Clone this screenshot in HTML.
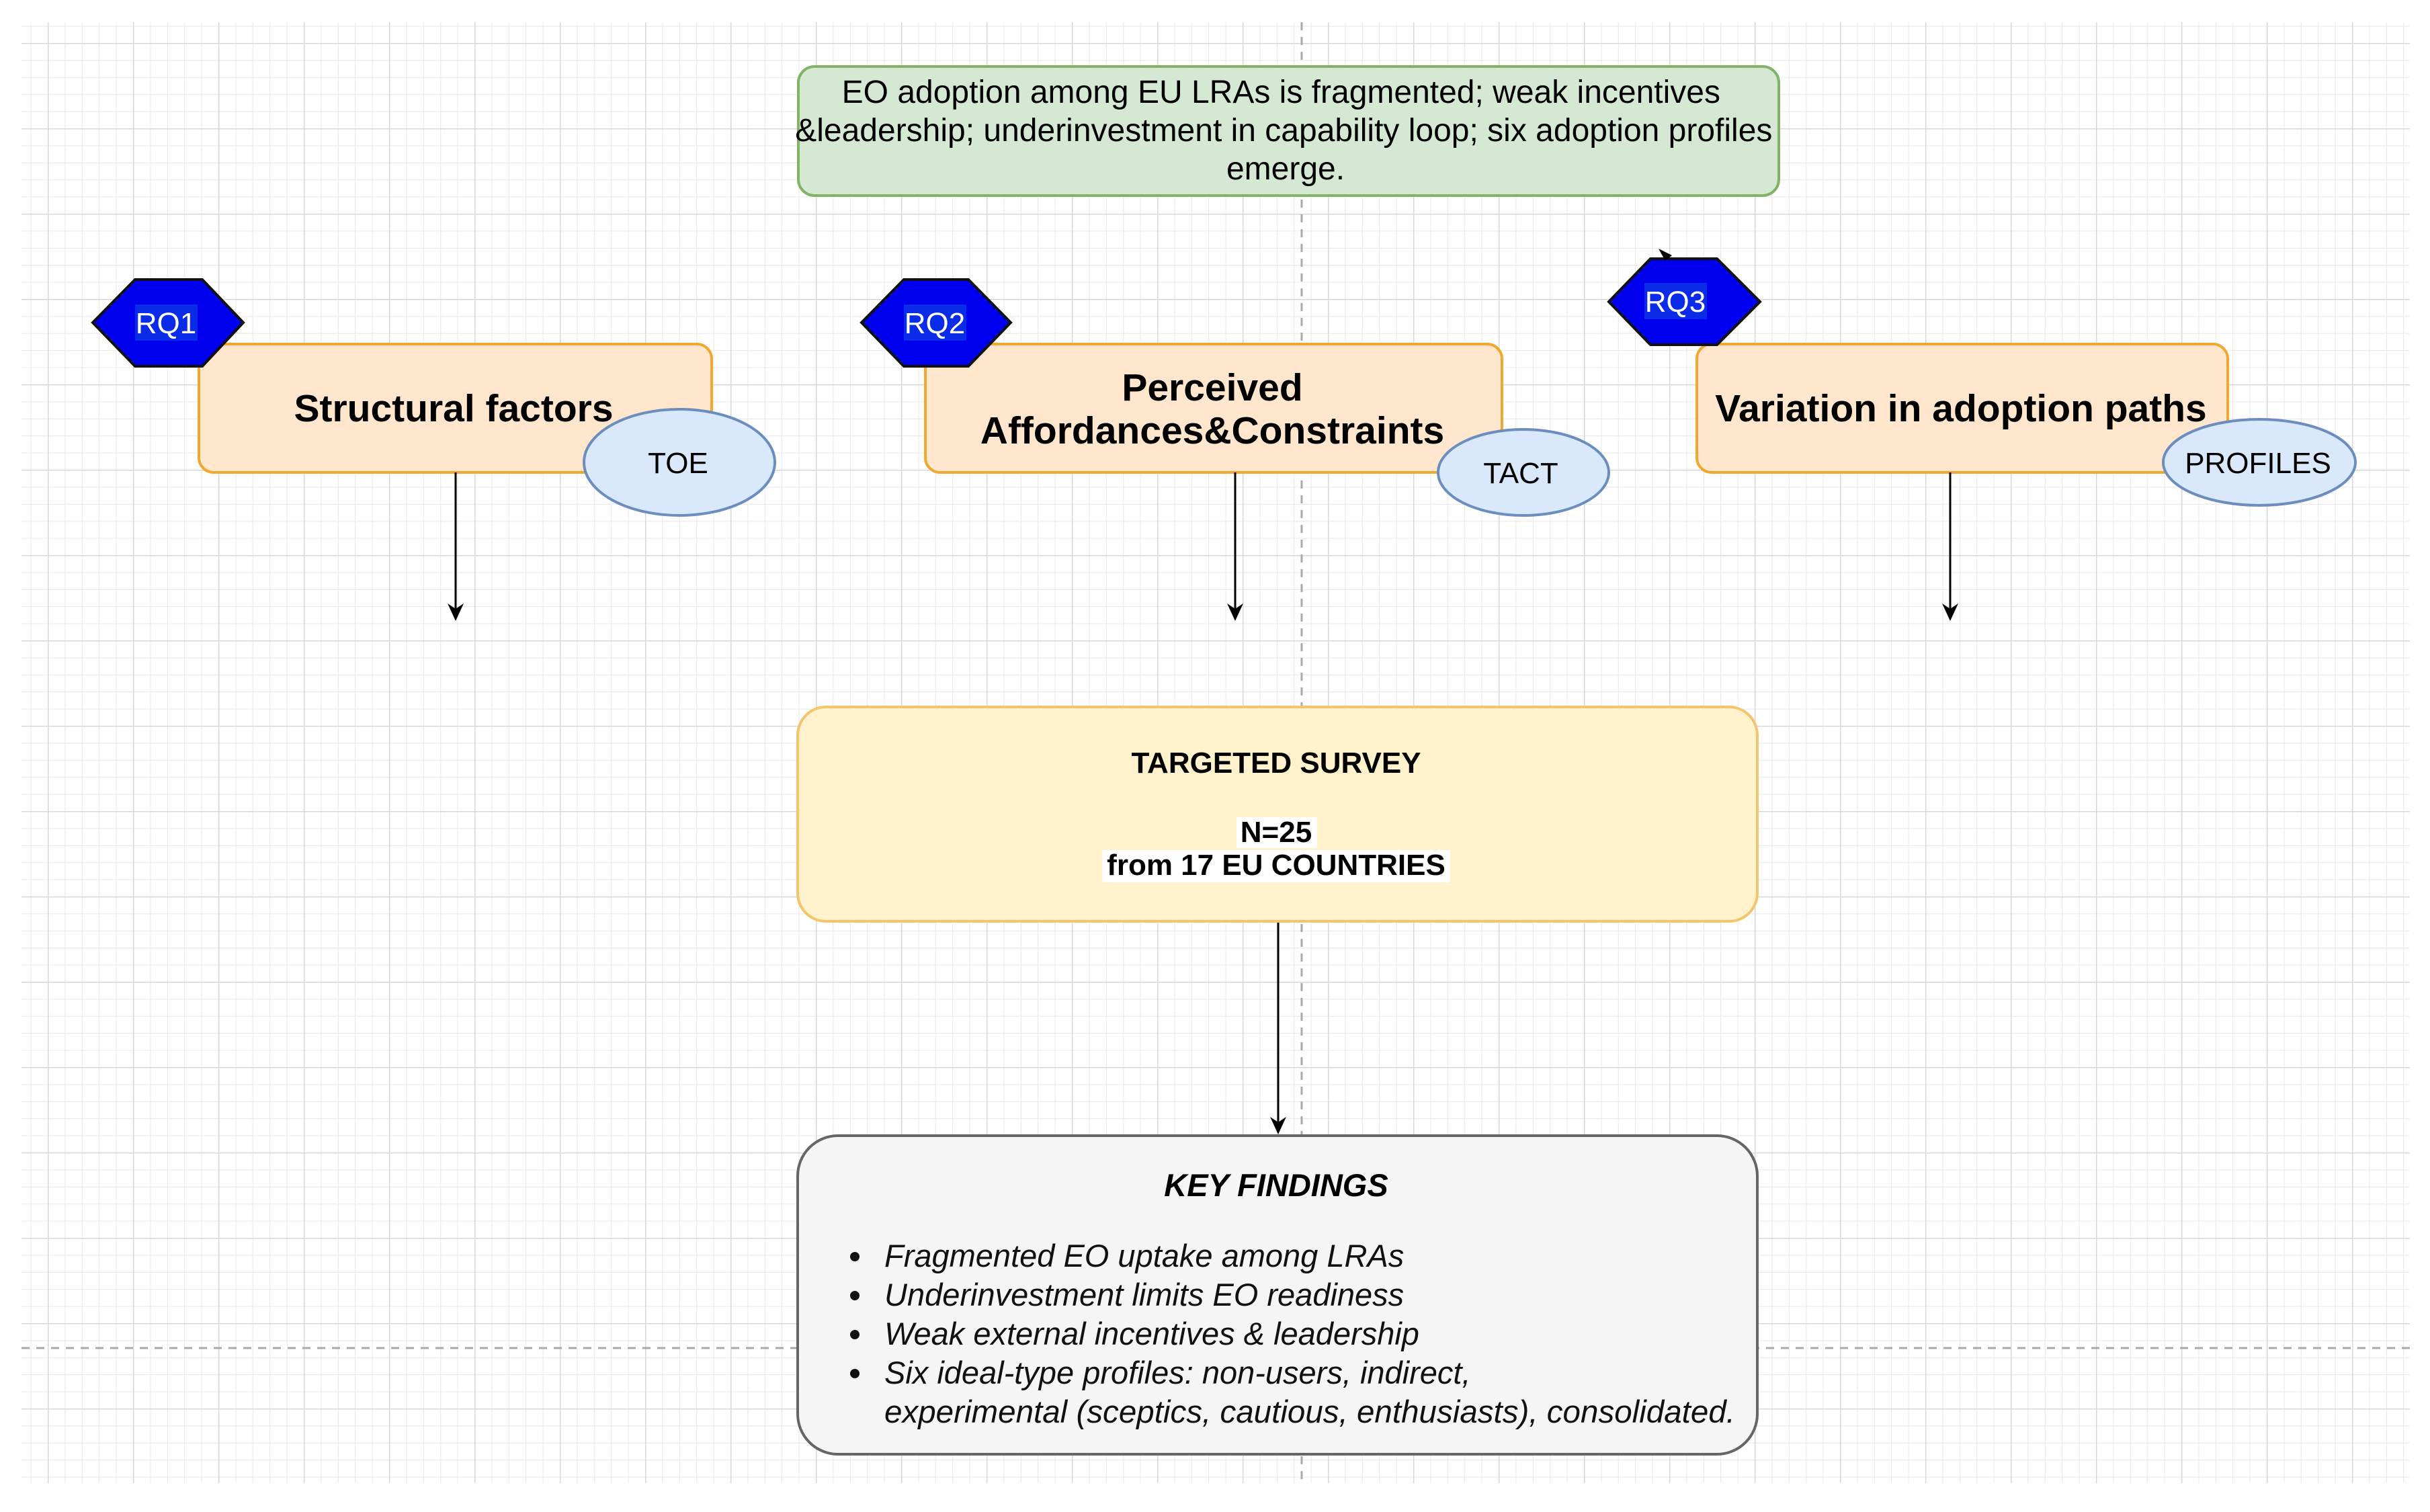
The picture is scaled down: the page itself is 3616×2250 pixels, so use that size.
<!DOCTYPE html>
<html><head><meta charset="utf-8"><style>
html,body{margin:0;padding:0;background:#fff;}
svg{display:block;}
text{font-family:"Liberation Sans",Arial,sans-serif;}
</style></head><body>
<svg width="3616" height="2250" viewBox="0 0 3616 2250" xmlns="http://www.w3.org/2000/svg">
<defs>
<pattern id="minor" x="71" y="64" width="25.4" height="25.4" patternUnits="userSpaceOnUse">
<path d="M0 0H25.4M0 0V25.4" stroke="#e8e8e8" stroke-width="2" fill="none"/>
</pattern>
<pattern id="major" x="71" y="64" width="127" height="127" patternUnits="userSpaceOnUse">
<path d="M0 0H127M0 0V127" stroke="#d8d8d8" stroke-width="3" fill="none"/>
</pattern>
</defs>
<rect x="32" y="33" width="3554" height="2174" fill="url(#minor)"/>
<rect x="32" y="33" width="3554" height="2174" fill="url(#major)"/>
<line x1="1937" y1="33" x2="1937" y2="2207" stroke="#aaa" stroke-width="3" stroke-dasharray="12,10"/>
<line x1="32" y1="2006" x2="3586" y2="2006" stroke="#aaa" stroke-width="3" stroke-dasharray="12,10"/>

<!-- green box -->
<rect x="1188" y="99" width="1459" height="192" rx="24" fill="#d5e8d4" stroke="#82b366" stroke-width="4"/>
<text font-size="48" text-anchor="middle" fill="#000">
<tspan x="1913" y="153">EO adoption among EU LRAs is fragmented; weak incentives</tspan>
<tspan x="1917" y="210">&amp;leadership; underinvestment in capability loop; six adoption profiles</tspan>
<tspan x="1913" y="267">emerge.</tspan>
</text>

<!-- boxes -->
<rect x="296" y="512" width="763" height="191" rx="22" fill="#ffe6cc" stroke="#f0a830" stroke-width="4"/>
<text x="675" y="627" font-size="57" font-weight="bold" text-anchor="middle">Structural factors</text>
<rect x="1377" y="512" width="858" height="191" rx="22" fill="#ffe6cc" stroke="#f0a830" stroke-width="4"/>
<text font-size="57" font-weight="bold" text-anchor="middle"><tspan x="1804" y="596">Perceived</tspan><tspan x="1804" y="660">Affordances&amp;Constraints</tspan></text>
<rect x="2525" y="512" width="790" height="191" rx="22" fill="#ffe6cc" stroke="#f0a830" stroke-width="4"/>
<text x="2918" y="627" font-size="57" font-weight="bold" text-anchor="middle">Variation in adoption paths</text>

<!-- ellipses -->
<ellipse cx="1011" cy="688" rx="142" ry="79" fill="#dae8fc" stroke="#6c8ebf" stroke-width="4"/>
<text x="1009" y="704" font-size="44" text-anchor="middle">TOE</text>
<ellipse cx="2267" cy="703" rx="127" ry="64" fill="#dae8fc" stroke="#6c8ebf" stroke-width="4"/>
<text x="2263" y="719" font-size="44" text-anchor="middle">TACT</text>
<ellipse cx="3362" cy="688" rx="143" ry="64" fill="#dae8fc" stroke="#6c8ebf" stroke-width="4"/>
<text x="3360" y="704" font-size="44" text-anchor="middle">PROFILES</text>

<!-- hexagons -->
<polygon points="138,480 201,416 301,416 362,480 301,545 201,545" fill="#0000ee" stroke="#111" stroke-width="4"/>
<rect x="201" y="453" width="93" height="54" fill="#0a2ce8"/>
<text x="247" y="496" font-size="44" fill="#fff" text-anchor="middle">RQ1</text>
<polygon points="1282,480 1345,416 1441,416 1504,480 1441,545 1345,545" fill="#0000ee" stroke="#111" stroke-width="4"/>
<rect x="1345" y="453" width="93" height="54" fill="#0a2ce8"/>
<text x="1391" y="496" font-size="44" fill="#fff" text-anchor="middle">RQ2</text>
<polygon points="2394,449 2456,385 2555,385 2619,449 2555,513 2456,513" fill="#0000ee" stroke="#111" stroke-width="4"/>
<rect x="2447" y="421" width="93" height="54" fill="#0a2ce8"/>
<text x="2493" y="464" font-size="44" fill="#fff" text-anchor="middle">RQ3</text>
<path d="M2468 370 L2478 388 L2488 380 Z" fill="#000"/>

<!-- arrows -->
<g stroke="#000" stroke-width="3">
<line x1="678" y1="703" x2="678" y2="915"/>
<line x1="1838" y1="703" x2="1838" y2="915"/>
<line x1="2902" y1="703" x2="2902" y2="915"/>
<line x1="1902" y1="1371" x2="1902" y2="1678"/>
</g>
<g fill="#000">
<path d="M666 898 L678 924 L690 898 L678 906 Z"/>
<path d="M1826 898 L1838 924 L1850 898 L1838 906 Z"/>
<path d="M2890 898 L2902 924 L2914 898 L2902 906 Z"/>
<path d="M1890 1662 L1902 1688 L1914 1662 L1902 1670 Z"/>
</g>

<!-- survey -->
<rect x="1187" y="1052" width="1428" height="319" rx="42" fill="#fff2cc" stroke="#f5c56e" stroke-width="4"/>
<text x="1899" y="1150" font-size="44" font-weight="bold" text-anchor="middle">TARGETED SURVEY</text>
<rect x="1840" y="1216" width="120" height="46" fill="#fff"/>
<text x="1899" y="1253" font-size="44" font-weight="bold" text-anchor="middle">N=25</text>
<rect x="1640" y="1265" width="518" height="48" fill="#fff"/>
<text x="1899" y="1302" font-size="44" font-weight="bold" text-anchor="middle">from 17 EU COUNTRIES</text>

<!-- key findings -->
<rect x="1187" y="1690" width="1428" height="474" rx="60" fill="#f5f5f5" stroke="#666" stroke-width="4"/>
<text x="1899" y="1780" font-size="47" font-weight="bold" font-style="italic" text-anchor="middle">KEY FINDINGS</text>
<g font-size="47" font-style="italic" fill="#111">
<circle cx="1272" cy="1870" r="7" fill="#111"/><text x="1316" y="1885">Fragmented EO uptake among LRAs</text>
<circle cx="1272" cy="1928" r="7" fill="#111"/><text x="1316" y="1943">Underinvestment limits EO readiness</text>
<circle cx="1272" cy="1986" r="7" fill="#111"/><text x="1316" y="2001">Weak external incentives &amp; leadership</text>
<circle cx="1272" cy="2044" r="7" fill="#111"/><text x="1316" y="2059">Six ideal-type profiles: non-users, indirect,</text>
<text x="1316" y="2117" textLength="1266" lengthAdjust="spacingAndGlyphs">experimental (sceptics, cautious, enthusiasts), consolidated.</text>
</g>
</svg>
</body></html>
